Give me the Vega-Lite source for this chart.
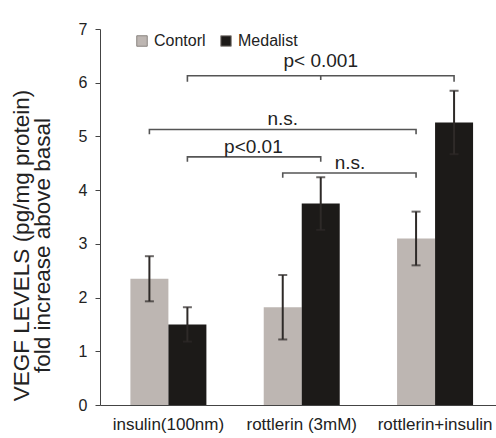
{
  "$schema": "https://vega.github.io/schema/vega-lite/v6.json",
  "autosize": {"type": "none"},
  "padding": {"left": 100, "top": 29, "right": 0, "bottom": 33},
  "width": 396,
  "height": 376,
  "background": "white",
  "config": {
    "font": "Liberation Sans",
    "view": {"stroke": null},
    "axis": {"domainColor": "#444", "tickColor": "#444", "labelColor": "#222", "titleColor": "#222", "grid": false}
  },
  "datasets": {
    "bars": [
      {"group": "insulin(100nm)", "series": "Contorl", "mean": 2.35, "lo": 1.93, "hi": 2.77},
      {"group": "insulin(100nm)", "series": "Medalist", "mean": 1.5, "lo": 1.18, "hi": 1.82},
      {"group": "rottlerin (3mM)", "series": "Contorl", "mean": 1.82, "lo": 1.22, "hi": 2.42},
      {"group": "rottlerin (3mM)", "series": "Medalist", "mean": 3.75, "lo": 3.26, "hi": 4.24},
      {"group": "rottlerin+insulin", "series": "Contorl", "mean": 3.1, "lo": 2.6, "hi": 3.6},
      {"group": "rottlerin+insulin", "series": "Medalist", "mean": 5.26, "lo": 4.67, "hi": 5.85}
    ],
    "brackets": [
      {"bracket": "A", "k": 1, "group": "insulin(100nm)", "series": "Medalist", "y": 6.02},
      {"bracket": "A", "k": 2, "group": "insulin(100nm)", "series": "Medalist", "y": 6.13},
      {"bracket": "A", "k": 3, "group": "rottlerin+insulin", "series": "Medalist", "y": 6.13},
      {"bracket": "A", "k": 4, "group": "rottlerin+insulin", "series": "Medalist", "y": 6.02},
      {"bracket": "Am", "k": 1, "group": "rottlerin (3mM)", "series": "Medalist", "y": 6.13},
      {"bracket": "Am", "k": 2, "group": "rottlerin (3mM)", "series": "Medalist", "y": 6.05},
      {"bracket": "B", "k": 1, "group": "insulin(100nm)", "series": "Contorl", "y": 5.04},
      {"bracket": "B", "k": 2, "group": "insulin(100nm)", "series": "Contorl", "y": 5.13},
      {"bracket": "B", "k": 3, "group": "rottlerin+insulin", "series": "Contorl", "y": 5.13},
      {"bracket": "B", "k": 4, "group": "rottlerin+insulin", "series": "Contorl", "y": 5.04},
      {"bracket": "C", "k": 1, "group": "insulin(100nm)", "series": "Medalist", "y": 4.53},
      {"bracket": "C", "k": 2, "group": "insulin(100nm)", "series": "Medalist", "y": 4.62},
      {"bracket": "C", "k": 3, "group": "rottlerin (3mM)", "series": "Medalist", "y": 4.62},
      {"bracket": "C", "k": 4, "group": "rottlerin (3mM)", "series": "Medalist", "y": 4.53},
      {"bracket": "D", "k": 1, "group": "rottlerin (3mM)", "series": "Contorl", "y": 4.23},
      {"bracket": "D", "k": 2, "group": "rottlerin (3mM)", "series": "Contorl", "y": 4.32},
      {"bracket": "D", "k": 3, "group": "rottlerin+insulin", "series": "Contorl", "y": 4.32},
      {"bracket": "D", "k": 4, "group": "rottlerin+insulin", "series": "Contorl", "y": 4.23}
    ],
    "labelsCenter": [
      {"label": "p< 0.001", "group": "rottlerin (3mM)", "series": "Medalist", "y": 6.3},
      {"label": "n.s.", "group": "rottlerin (3mM)", "series": "Contorl", "y": 5.21}
    ],
    "labelsRight": [
      {"label": "p<0.01", "group": "rottlerin (3mM)", "series": "Contorl", "y": 4.69}
    ],
    "labelsLeft": [
      {"label": "n.s.", "group": "rottlerin (3mM)", "series": "Medalist", "y": 4.4}
    ]
  },
  "encoding": {
    "x": {
      "field": "group", "type": "nominal", "sort": null,
      "scale": {"paddingInner": 0.43, "paddingOuter": 0.2, "align": 0.57},
      "axis": {"title": null, "labelAngle": 0, "ticks": false, "labelFontSize": 17, "labelPadding": 11, "domainColor": "#444"}
    },
    "xOffset": {"field": "series", "type": "nominal", "sort": ["Contorl", "Medalist"], "scale": {"paddingInner": 0, "paddingOuter": 0}}
  },
  "layer": [
    {
      "data": {"name": "bars"},
      "mark": {"type": "bar"},
      "encoding": {
        "y": {
          "field": "mean", "type": "quantitative",
          "scale": {"domain": [0, 7], "nice": false},
          "axis": {
            "values": [0, 1, 2, 3, 4, 5, 6, 7], "format": "d",
            "title": ["VEGF LEVELS (pg/mg protein)", "fold increase above basal"],
            "titleFontSize": 22.5, "titleFontWeight": "normal", "titleLineHeight": 21,
            "titlePadding": 24, "titleY": 216,
            "labelFontSize": 16, "labelPadding": 8, "tickSize": 5
          }
        },
        "color": {
          "field": "series", "type": "nominal", "sort": ["Contorl", "Medalist"],
          "scale": {"domain": ["Contorl", "Medalist"], "range": ["#bdb6b2", "#1c1a18"]},
          "legend": {
            "title": null, "orient": "none", "legendX": 34, "legendY": 4, "direction": "horizontal",
            "symbolType": "square", "symbolSize": 110, "symbolStrokeColor": "#8a8480", "symbolStrokeWidth": 1,
            "labelFontSize": 16, "labelColor": "#222", "labelOffset": 4, "columnPadding": 12
          }
        }
      }
    },
    {
      "mark": {"type": "rule", "strokeDash": [3, 3], "color": "#8a8a8a", "strokeWidth": 1},
      "encoding": {"y": {"datum": 1}, "x": null, "xOffset": null}
    },
    {
      "data": {"name": "bars"},
      "mark": {"type": "rule", "color": "#2e2a28", "strokeWidth": 2},
      "encoding": {"y": {"field": "lo", "type": "quantitative"}, "y2": {"field": "hi"}}
    },
    {
      "data": {"name": "bars"},
      "mark": {"type": "tick", "color": "#2e2a28", "thickness": 2, "size": 9},
      "encoding": {"y": {"field": "hi", "type": "quantitative"}}
    },
    {
      "data": {"name": "bars"},
      "mark": {"type": "tick", "color": "#2e2a28", "thickness": 2, "size": 9},
      "encoding": {"y": {"field": "lo", "type": "quantitative"}}
    },
    {
      "data": {"name": "brackets"},
      "mark": {"type": "line", "color": "#555", "strokeWidth": 1.6},
      "encoding": {
        "y": {"field": "y", "type": "quantitative"},
        "detail": {"field": "bracket"},
        "order": {"field": "k"}
      }
    },
    {
      "data": {"name": "labelsCenter"},
      "mark": {"type": "text", "fontSize": 19, "color": "#222", "align": "center", "baseline": "alphabetic"},
      "encoding": {"y": {"field": "y", "type": "quantitative"}, "text": {"field": "label"}}
    },
    {
      "data": {"name": "labelsRight"},
      "mark": {"type": "text", "fontSize": 19, "color": "#222", "align": "right", "baseline": "alphabetic"},
      "encoding": {"y": {"field": "y", "type": "quantitative"}, "text": {"field": "label"}}
    },
    {
      "data": {"name": "labelsLeft"},
      "mark": {"type": "text", "fontSize": 19, "color": "#222", "align": "left", "baseline": "alphabetic", "dx": 14},
      "encoding": {"y": {"field": "y", "type": "quantitative"}, "text": {"field": "label"}}
    }
  ]
}
